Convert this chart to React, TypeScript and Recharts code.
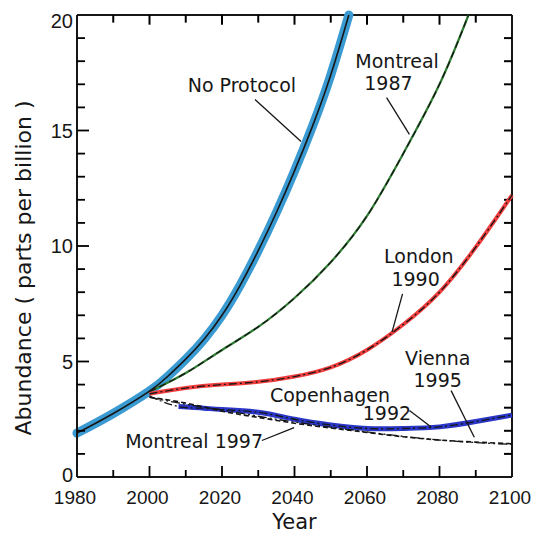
import React from 'react';
import { LineChart, Line, XAxis, YAxis, ReferenceLine, ReferenceDot } from 'recharts';

// ---- axis ticks ----
const yearTicks = [1980, 1990, 2000, 2010, 2020, 2030, 2040, 2050, 2060, 2070, 2080, 2090, 2100];
const yearLabels = [1980, 2000, 2020, 2040, 2060, 2080, 2100];
const abundanceTicks = [0, 1, 2, 3, 4, 5, 6, 7, 8, 9, 10, 11, 12, 13, 14, 15, 16, 17, 18, 19, 20];
const abundanceLabels = [0, 5, 10, 15, 20];

// ---- series ----
const noProtocolYears = [1980, 1990, 2000, 2005, 2010, 2015, 2020, 2025, 2030, 2035, 2040, 2045, 2050, 2055];
const noProtocolValues = [1.9, 2.75, 3.72, 4.35, 5.1, 5.95, 7.0, 8.3, 9.8, 11.45, 13.25, 15.2, 17.4, 20.0];

const montreal1987Years = [2000, 2010, 2020, 2030, 2040, 2050, 2060, 2070, 2080, 2088];
const montreal1987Values = [3.7, 4.5, 5.5, 6.5, 7.75, 9.3, 11.3, 14.0, 17.0, 20.0];

const london1990Years = [2000, 2010, 2020, 2030, 2040, 2050, 2060, 2070, 2080, 2090, 2100];
const london1990Values = [3.6, 3.85, 4.0, 4.12, 4.35, 4.75, 5.5, 6.6, 8.0, 9.95, 12.2];

const copenhagenYears = [2008, 2015, 2020, 2030, 2040, 2050, 2060, 2070, 2080, 2090, 2100];
const copenhagenValues = [3.05, 2.98, 2.92, 2.8, 2.5, 2.25, 2.1, 2.1, 2.17, 2.4, 2.68];
const copenhagenDashYears = [2000, 2008, 2015, 2020, 2030, 2040, 2050, 2060, 2070, 2080, 2090, 2100];
const copenhagenDashValues = [3.5, 3.05, 2.98, 2.92, 2.8, 2.5, 2.25, 2.1, 2.1, 2.17, 2.4, 2.68];

const montreal1997Years = [2000, 2010, 2020, 2030, 2040, 2050, 2060, 2070, 2080, 2090, 2100];
const montreal1997Values = [3.45, 3.2, 2.85, 2.58, 2.33, 2.12, 1.93, 1.74, 1.6, 1.51, 1.44];

const vienna1995Years = [2000, 2010, 2020, 2030, 2040, 2050, 2060, 2070, 2080, 2090, 2100];
const vienna1995Values = [3.45, 3.15, 2.9, 2.63, 2.38, 2.16, 1.95, 1.76, 1.6, 1.49, 1.41];

// ---- annotations ----
const annotationTexts = ['No Protocol', 'Montreal', '1987', 'London', '1990', 'Vienna', '1995', 'Copenhagen', '1992', 'Montreal 1997'];
const annotationYears = [2025.5, 2068.3, 2065.9, 2074.3, 2073.4, 2079.5, 2079.5, 2049.8, 2065.5, 2012.3];
const annotationValues = [16.65, 17.71, 16.74, 9.27, 8.29, 4.83, 3.89, 3.24, 2.45, 1.25];

const pointerFromYears = [2029.1, 2065.4, 2069.8, 2083.2, 2071.7, 2031.0];
const pointerFromValues = [16.34, 16.42, 7.93, 3.74, 2.88, 1.58];
const pointerToYears = [2041.8, 2071.7, 2066.9, 2089.6, 2077.7, 2039.9];
const pointerToValues = [14.52, 14.83, 6.27, 1.72, 2.16, 2.14];

const toSeries = (years: number[], values: number[]) => years.map((year, i) => ({ year, v: values[i] }));

const INK = '#161616';
const TICK_INK = '#000000';
const TICK_FONT = '"Liberation Sans", Arial, sans-serif';
const TEXT_FONT = '"DejaVu Sans", sans-serif';
const M = 6; // tick margin

// inward tick lengths, in data units of the perpendicular axis
const Y_TICK_MAJOR = 3.3; // years
const Y_TICK_MINOR = 2.2;
const X_TICK_MAJOR = 0.47; // ppb
const X_TICK_MINOR = 0.3;

const innerY = abundanceTicks.filter((v) => v > 0 && v < 20);
const innerX = yearTicks.filter((t) => t > 1980 && t < 2100);
const tickSegments = [
  ...innerY.map((v) => [{ year: 2100 - Y_TICK_MINOR, v }, { year: 2100, v }]),
  ...innerX.map((t) => [{ year: t, v: 20 }, { year: t, v: 20 - (yearLabels.includes(t) ? X_TICK_MAJOR - 0.05 : X_TICK_MINOR + 0.03) }]),
];

const LeftTick = (props: any) => {
  const { x, y, payload } = props;
  const v = payload.value;
  const major = abundanceLabels.includes(v);
  const ax = x + M;
  const showMark = v > 0 && v < 20;
  const dy = v === 20 ? 13 : v === 0 ? 5 : 7;
  return (
    <g>
      {showMark && <rect x={ax} y={y - 0.9} width={major ? 12 : 8} height={1.8} fill={TICK_INK} />}
      {major && (
        <text x={ax - 4} y={y + dy} textAnchor="end" fontSize={20} fontFamily={TICK_FONT} fill={INK}>
          {v}
        </text>
      )}
    </g>
  );
};

const BottomTick = (props: any) => {
  const { x, y, payload } = props;
  const v = payload.value;
  const major = yearLabels.includes(v);
  const ay = y - M;
  const len = major ? 11 : 7;
  const showMark = v > 1980 && v < 2100;
  return (
    <g>
      {showMark && <rect x={x - 0.9} y={ay - len} width={1.8} height={len} fill={TICK_INK} />}
      {major && (
        <text x={x - 2} y={ay + 26.5} textAnchor="middle" fontSize={19} fontFamily={TICK_FONT} fill={INK}>
          {v}
        </text>
      )}
    </g>
  );
};

const axisLine = { stroke: INK, strokeWidth: 2 };
const CURVE = 'natural' as const;

export default function App() {
  return (
    <div style={{ position: 'absolute', left: 0, top: 0, width: 536, height: 533, background: '#fff' }}>
      <LineChart width={536} height={533} margin={{ top: 15, right: 24, bottom: 26, left: 17 }}>
        <XAxis
          dataKey="year"
          type="number"
          domain={[1980, 2100]}
          ticks={yearTicks}
          interval={0}
          height={30}
          tickSize={0}
          tickMargin={M}
          tickLine={false}
          axisLine={axisLine}
          tick={(p: any) => <BottomTick {...p} />}
          label={{ value: 'Year', position: 'bottom', offset: 7, fontSize: 21, fontFamily: TEXT_FONT, fill: INK }}
        />
        <YAxis
          type="number"
          domain={[0, 20]}
          ticks={abundanceTicks}
          interval={0}
          width={60}
          tickSize={0}
          tickMargin={M}
          tickLine={false}
          axisLine={axisLine}
          tick={(p: any) => <LeftTick {...p} />}
        />

        {/* top and right sides of the frame */}
        <ReferenceLine y={20} ifOverflow="visible" stroke={INK} strokeWidth={2} />
        <ReferenceLine x={2100} ifOverflow="visible" stroke={INK} strokeWidth={2} />

        {/* inward tick marks on the top and right sides */}
        {tickSegments.map((seg, i) => (
          <Line key={'tk' + i} data={seg} dataKey="v" type="linear" dot={false} activeDot={false} legendType="none" stroke={TICK_INK} strokeWidth={2} isAnimationActive={false} />
        ))}

        {/* coloured highlight strokes */}
        <Line data={toSeries(noProtocolYears, noProtocolValues)} dataKey="v" type={CURVE} dot={false} stroke="#3a9ad2" strokeWidth={9} strokeLinecap="round" isAnimationActive={false} />
        <Line data={toSeries(montreal1987Years, montreal1987Values)} dataKey="v" type={CURVE} dot={false} stroke="#2e7d32" strokeWidth={2.2} isAnimationActive={false} />
        <Line data={toSeries(london1990Years, london1990Values)} dataKey="v" type={CURVE} dot={false} stroke="#f03e3e" strokeWidth={4} isAnimationActive={false} />
        <Line data={toSeries(copenhagenYears, copenhagenValues)} dataKey="v" type={CURVE} dot={false} stroke="#2a36c6" strokeWidth={5} isAnimationActive={false} />

        {/* black model curves */}
        <Line data={toSeries(noProtocolYears, noProtocolValues)} dataKey="v" type={CURVE} dot={false} stroke={INK} strokeWidth={1.6} isAnimationActive={false} />
        <Line data={toSeries(montreal1987Years, montreal1987Values)} dataKey="v" type={CURVE} dot={false} stroke={INK} strokeWidth={1.3} strokeDasharray="7 4" isAnimationActive={false} />
        <Line data={toSeries(london1990Years, london1990Values)} dataKey="v" type={CURVE} dot={false} stroke={INK} strokeWidth={1.3} strokeDasharray="8 3 2 3" isAnimationActive={false} />
        <Line data={toSeries(copenhagenDashYears, copenhagenDashValues)} dataKey="v" type={CURVE} dot={false} stroke={INK} strokeWidth={1.3} strokeDasharray="8 3 2 3" isAnimationActive={false} />
        <Line data={toSeries(montreal1997Years, montreal1997Values)} dataKey="v" type={CURVE} dot={false} stroke={INK} strokeWidth={1.6} strokeDasharray="5 3" isAnimationActive={false} />
        <Line data={toSeries(vienna1995Years, vienna1995Values)} dataKey="v" type={CURVE} dot={false} stroke={INK} strokeWidth={1.3} strokeDasharray="9 3 2 3 2 3" isAnimationActive={false} />

        {pointerFromYears.map((y, i) => (
          <ReferenceLine
            key={'p' + i}
            segment={[
              { x: y, y: pointerFromValues[i] },
              { x: pointerToYears[i], y: pointerToValues[i] },
            ]}
            stroke={INK}
            strokeWidth={1.3}
          />
        ))}

        {annotationTexts.map((t, i) => (
          <ReferenceDot
            key={'a' + i}
            x={annotationYears[i]}
            y={annotationValues[i]}
            r={0}
            shape={(p: any) => (
              <text x={p.cx} y={p.cy} textAnchor="middle" fontSize={19} fontFamily={TEXT_FONT} fill={INK}>
                {t}
              </text>
            )}
          />
        ))}

        <text x={31} y={268} transform="rotate(-90 31 268)" textAnchor="middle" fontSize={22} fontFamily={TEXT_FONT} fill={INK}>
          Abundance ( parts per billion )
        </text>
      </LineChart>
    </div>
  );
}
